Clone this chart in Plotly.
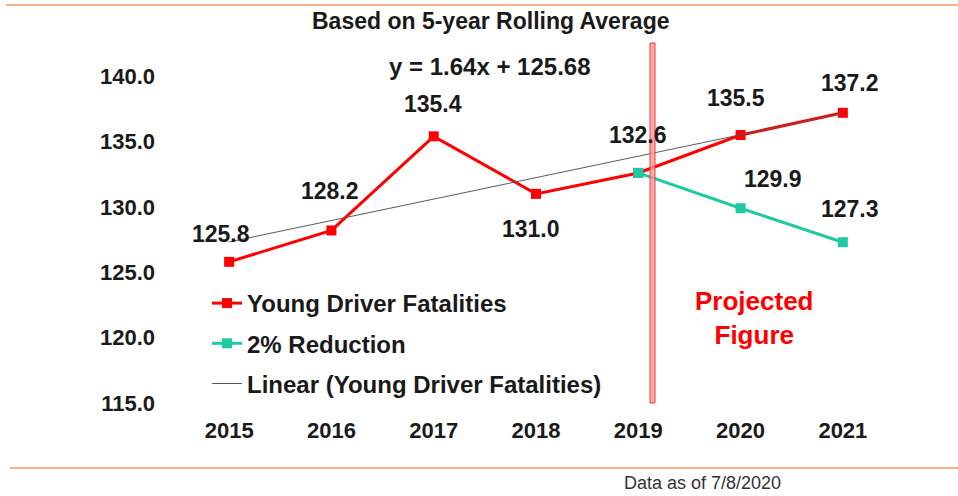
import plotly.graph_objects as go

years = ["2015", "2016", "2017", "2018", "2019", "2020", "2021"]
young = [125.8, 128.2, 135.4, 131.0, 132.6, 135.5, 137.2]
red_years = ["2019", "2020", "2021"]
reduction = [132.6, 129.9, 127.3]
slope, intercept = 1.64, 125.68
trend = [slope * (i + 1) + intercept for i in range(len(years))]
y_ticks = [115, 120, 125, 130, 135, 140]

# label offsets (px) for data labels
young_off = [(-8, 28), (-1, 39), (-1, 32), (-5, -35), (0, 38), (-5, 37), (7, 30)]
red_off = [None, (32, 29), (7, 33)]

FONT = "Liberation Sans, Arial, sans-serif"
RED = "#FF0000"
TEAL = "#1FC9A2"
TXT = "#1a1a1a"

fig = go.Figure()
fig.add_trace(go.Scatter(x=years, y=young, mode="lines+markers", name="Young Driver Fatalities",
                         line=dict(color=RED, width=3), marker=dict(symbol="square", size=10, color=RED),
                         legendgroup="a", legendrank=1))
fig.add_trace(go.Scatter(x=red_years, y=reduction, mode="lines+markers", name="2% Reduction",
                         line=dict(color=TEAL, width=3), marker=dict(symbol="square", size=10, color=TEAL),
                         legendgroup="b", legendrank=2))
fig.add_trace(go.Scatter(x=years, y=trend, mode="lines", name="Linear (Young Driver Fatalities)",
                         line=dict(color="#5a5a5a", width=1), legendgroup="c", legendrank=3))

ann = []
for i, (v, (dx, dy)) in enumerate(zip(young, young_off)):
    ann.append(dict(x=i, y=v, xref="x", yref="y", text=f"{v:.1f}", showarrow=False,
                    xanchor="center", yanchor="middle",
                    xshift=dx, yshift=dy, font=dict(size=23, color=TXT, family=FONT, weight="bold")))
for yr, v, off in zip(red_years, reduction, red_off):
    if off is None:
        continue
    dx, dy = off
    ann.append(dict(x=years.index(yr), y=v, xref="x", yref="y", text=f"{v:.1f}", showarrow=False,
                    xanchor="center", yanchor="middle",
                    xshift=dx, yshift=dy, font=dict(size=23, color=TXT, family=FONT, weight="bold")))
ann.append(dict(x=490, y=21, xref="paper", yref="paper", text="<b>Based on 5-year Rolling Average</b>",
                showarrow=False, font=dict(size=23, color=TXT, family=FONT)))
ann.append(dict(x=490, y=66, xref="paper", yref="paper", text=f"<b>y = {slope:.2f}x + {intercept:.2f}</b>",
                showarrow=False, font=dict(size=24, color=TXT, family=FONT)))
ann.append(dict(x=754, y=318, xref="paper", yref="paper", text="<b>Projected<br>Figure</b>",
                showarrow=False, font=dict(size=26, color=RED, family=FONT)))
ann.append(dict(x=702, y=483, xref="paper", yref="paper", text="Data as of 7/8/2020",
                showarrow=False, font=dict(size=18, color="#333333", family=FONT)))

L, R, T, B = 178, 64, 43, 93
W, H = 958, 496
pw, ph = W - L - R, H - T - B
for a in ann:
    if a["xref"] == "paper":
        a["x"] = (a["x"] - L) / pw
        a["y"] = 1 - (a["y"] - T) / ph
        a["xanchor"] = "center"
        a["yanchor"] = "middle"

def px_y(py):
    return 1 - (py - T) / ph

def px_x(pxv):
    return (pxv - L) / pw

shapes = [
    dict(type="rect", xref="paper", yref="paper", x0=px_x(650), x1=px_x(655), y0=0, y1=1,
         line=dict(color="rgba(240,40,40,0.9)", width=1), fillcolor="rgba(255,150,150,0.8)", layer="above"),
    dict(type="line", xref="paper", yref="paper", x0=px_x(6), x1=px_x(958), y0=px_y(5), y1=px_y(5),
         line=dict(color="#F7B48C", width=2)),
    dict(type="line", xref="paper", yref="paper", x0=px_x(10), x1=px_x(958), y0=px_y(468), y1=px_y(468),
         line=dict(color="#F7B48C", width=2)),
]

fig.update_layout(
    width=W, height=H, margin=dict(l=L, r=R, t=T, b=B),
    paper_bgcolor="white", plot_bgcolor="white",
    font=dict(family=FONT, color=TXT),
    annotations=ann, shapes=shapes,
    xaxis=dict(type="category", categoryarray=years, range=[-0.5, 6.5], showgrid=False, zeroline=False,
               showline=False, ticks="", ticklabelstandoff=12,
               tickfont=dict(size=22, family=FONT, weight="bold", color=TXT)),
    yaxis=dict(range=[115, 142.54], tickvals=y_ticks, ticktext=[f"{v:.1f}" for v in y_ticks],
               showgrid=False, zeroline=False, showline=False, ticks="", ticklabelstandoff=22,
               tickfont=dict(size=22, family=FONT, weight="bold", color=TXT)),
    legend=dict(x=px_x(207), y=px_y(281), xanchor="left", yanchor="top", bgcolor="rgba(0,0,0,0)",
                font=dict(size=24, family=FONT, weight="bold", color=TXT),
                traceorder="grouped", tracegroupgap=6, itemwidth=30),
    showlegend=True,
)
fig.update_traces(cliponaxis=False)
fig.write_html("out.html", config={"displayModeBar": False},
               post_script="document.body.style.margin='0';document.body.style.padding='0';")
